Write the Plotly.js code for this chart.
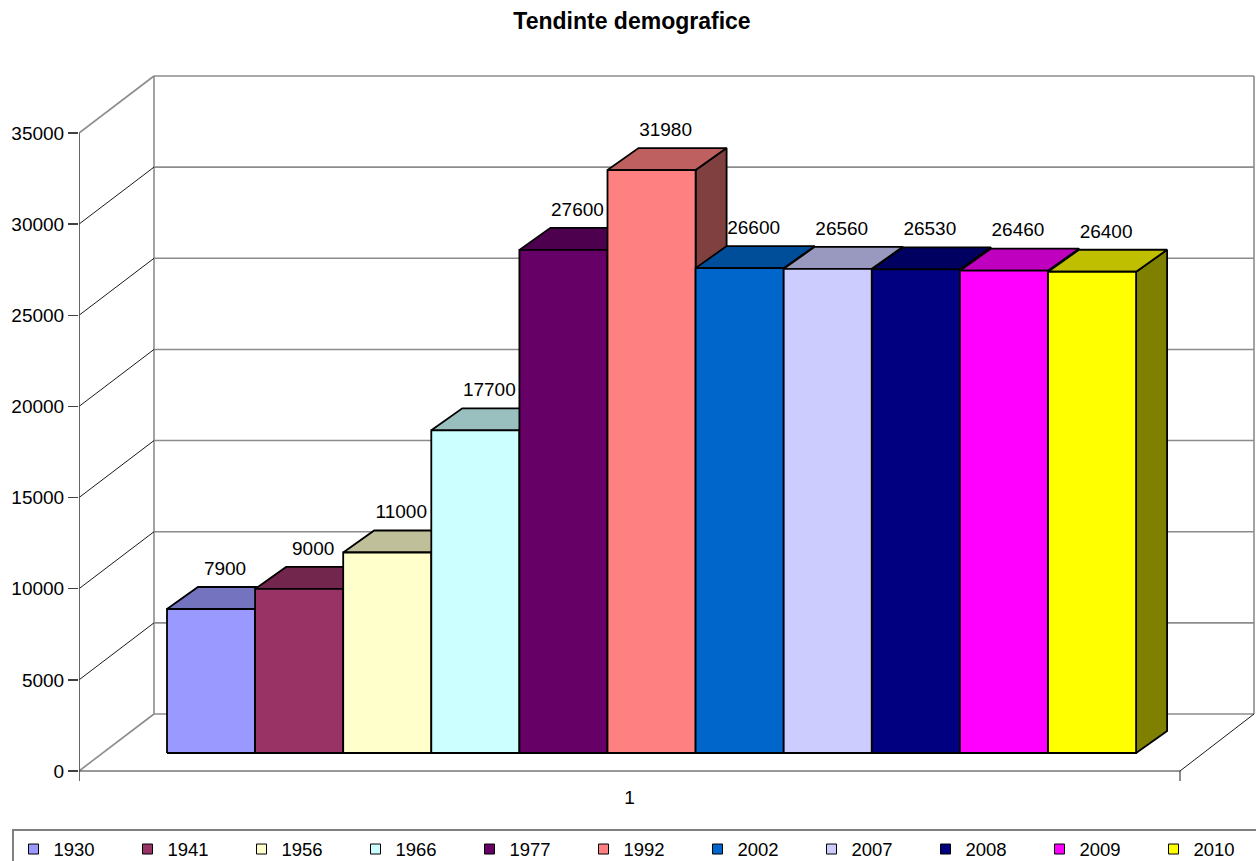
<!DOCTYPE html>
<html>
<head>
<meta charset="utf-8">
<script src="https://cdn.plot.ly/plotly-3.0.1.min.js"></script>
<style>html,body{margin:0;padding:0;background:#fff;}</style>
</head>
<body>
<div id="chart" style="width:1256px;height:861px;"></div>
<script>
// Populatia pe ani
const years = ['1930', '1941', '1956', '1966', '1977', '1992', '2002', '2007', '2008', '2009', '2010'];
const population = [7900, 9000, 11000, 17700, 27600, 31980, 26600, 26560, 26530, 26460, 26400];
const valueTicks = [0, 5000, 10000, 15000, 20000, 25000, 30000, 35000];
const categoryLabels = ['1'];

// Culorile seriilor (fata din fata a coloanelor)
const palette = ['#9999FF', '#993366', '#FFFFCC', '#CCFFFF', '#660066', '#FF8080',
                 '#0066CC', '#CCCCFF', '#000080', '#FF00FF', '#FFFF00'];

const FONT = 'Arial, "Liberation Sans", sans-serif';
const TEXT_SIZE = 19;

// ---- geometry of the pseudo-3D box (pixels) ----
const W = 1256, H = 861;
const plotL = 79, plotR = 1256, plotT = 60, plotB = 782;
const plotW = plotR - plotL, plotH = plotB - plotT;
const zeroPx = 771, topPx = 133, topValue = 35000;
const k = (zeroPx - topPx) / topValue;          // pixels per unit
const v = px => px / k;                            // pixel offset -> value offset
const yRange = [-(plotB - zeroPx) / k, topValue + (topPx - plotT) / k];

const wallDX = 75, wallDY = 57;                    // floor depth
const floorRight = 1180, wallRight = 1254;
const wallLeft = plotL + wallDX;

const barLeft = 167, barW = 88.1;                  // column front faces
const barLift = 18, barDX = 31, barDY = 22;        // column depth

function shade(hex, f) {
  const n = parseInt(hex.slice(1), 16);
  const r = Math.round(((n >> 16) & 255) * f);
  const g = Math.round(((n >> 8) & 255) * f);
  const b = Math.round((n & 255) * f);
  return 'rgb(' + r + ',' + g + ',' + b + ')';
}

function segments(list) {
  const xs = [], ys = [];
  list.forEach(s => { xs.push(s[0], s[2], null); ys.push(s[1], s[3], null); });
  return {x: xs, y: ys};
}

function lineTrace(list, color, width) {
  const s = segments(list);
  return {type: 'scatter', mode: 'lines', x: s.x, y: s.y,
          line: {color: color, width: width}, hoverinfo: 'skip', showlegend: false};
}

const traces = [];
const back = v(wallDY);

// back wall: horizontal gridlines and side edges
const wallLines = valueTicks.map(t => [wallLeft, t + back, wallRight, t + back]);
wallLines.push([wallLeft, back, wallLeft, topValue + back]);
wallLines.push([wallRight, back, wallRight, topValue + back]);
traces.push(lineTrace(wallLines, '#8c8c8c', 1.6));

// left side wall: diagonals from the value axis to the back wall
const inner = valueTicks.filter(t => t > 0 && t < topValue);
traces.push(lineTrace(inner.map(t => [plotL, t, wallLeft, t + back]), '#000', 0.9));
traces.push(lineTrace([[plotL, 0, wallLeft, back],
                       [plotL, topValue, wallLeft, topValue + back]], '#8c8c8c', 1.6));

// floor front edge, right edge and category ticks
traces.push(lineTrace([[plotL, 0, floorRight, 0]], '#333', 1.2));
traces.push(lineTrace([[floorRight, 0, wallRight, back],
                       [floorRight, 0, floorRight, -v(10)]], '#000', 0.9));

// value axis
traces.push(lineTrace([[plotL, -v(10), plotL, topValue]], '#404040', 1.6));

// columns, painted left to right: side, top, front
population.forEach((val, i) => {
  const x0 = barLeft + i * barW, x1 = x0 + barW;
  const b0 = v(barLift), dz = v(barDY);
  const top = b0 + val;
  const face = (xs, ys, fill) => ({
    type: 'scatter', mode: 'lines', fill: 'toself', fillcolor: fill,
    x: xs, y: ys, line: {color: '#000', width: 1.8},
    hoverinfo: 'skip', showlegend: false
  });
  traces.push(face([x1, x1 + barDX, x1 + barDX, x1, x1],
                   [b0, b0 + dz, top + dz, top, b0], shade(palette[i], 0.5)));
  traces.push(face([x0, x1, x1 + barDX, x0 + barDX, x0],
                   [top, top, top + dz, top + dz, top], shade(palette[i], 0.75)));
  traces.push(face([x0, x1, x1, x0, x0],
                   [b0, b0, top, top, b0], palette[i]));
});

// value labels above each column
traces.push({
  type: 'scatter', mode: 'text',
  x: population.map((val, i) => barLeft + i * barW + barW / 2 + 14),
  y: population.map(val => v(barLift) + val + v(barDY) + v(17)),
  text: population.map(String),
  textposition: 'middle center',
  textfont: {family: FONT, size: TEXT_SIZE, color: '#000'},
  cliponaxis: false, hoverinfo: 'skip', showlegend: false
});

// legend entries
years.forEach((yr, i) => {
  traces.push({
    type: 'scatter', mode: 'markers', x: [null], y: [null], name: yr,
    marker: {symbol: 'square', size: 10, color: palette[i], line: {color: '#000', width: 1}},
    hoverinfo: 'skip', showlegend: true
  });
});

const layout = {
  width: W, height: H,
  margin: {l: plotL, r: W - plotR, t: plotT, b: H - plotB, pad: 0, autoexpand: false},
  paper_bgcolor: '#ffffff', plot_bgcolor: 'rgba(0,0,0,0)',
  font: {family: FONT, size: TEXT_SIZE, color: '#000'},
  title: {
    text: 'Tendinte demografice',
    font: {family: FONT, size: 23, color: '#000', weight: 700},
    x: 632 / W, xanchor: 'center', xref: 'container',
    y: 1 - 21 / H, yanchor: 'middle', yref: 'container'
  },
  xaxis: {
    range: [plotL, plotR], showgrid: false, zeroline: false, showline: false,
    tickmode: 'array', tickvals: [(plotL + floorRight) / 2], ticktext: categoryLabels,
    ticks: '', ticklabelstandoff: 2, tickfont: {family: FONT, size: TEXT_SIZE, color: '#000'},
    automargin: false, fixedrange: true
  },
  yaxis: {
    range: yRange, showgrid: false, zeroline: false, showline: false,
    tickmode: 'array', tickvals: valueTicks, ticktext: valueTicks.map(String),
    ticks: 'outside', ticklen: 10, tickwidth: 1.5, tickcolor: '#404040',
    tickfont: {family: FONT, size: TEXT_SIZE, color: '#000'},
    automargin: false, fixedrange: true
  },
  showlegend: true,
  legend: {
    orientation: 'h', xref: 'paper', yref: 'paper',
    x: (12 - plotL) / plotW, xanchor: 'left',
    y: -(829 - plotB) / plotH, yanchor: 'top',
    bordercolor: '#808080', borderwidth: 1.5, bgcolor: '#fff',
    font: {family: FONT, size: 18.5, color: '#000'},
    itemwidth: 30, entrywidth: 69, traceorder: 'normal'
  }
};

Plotly.newPlot('chart', traces, layout, {displayModeBar: false, staticPlot: true});
</script>
</body>
</html>
